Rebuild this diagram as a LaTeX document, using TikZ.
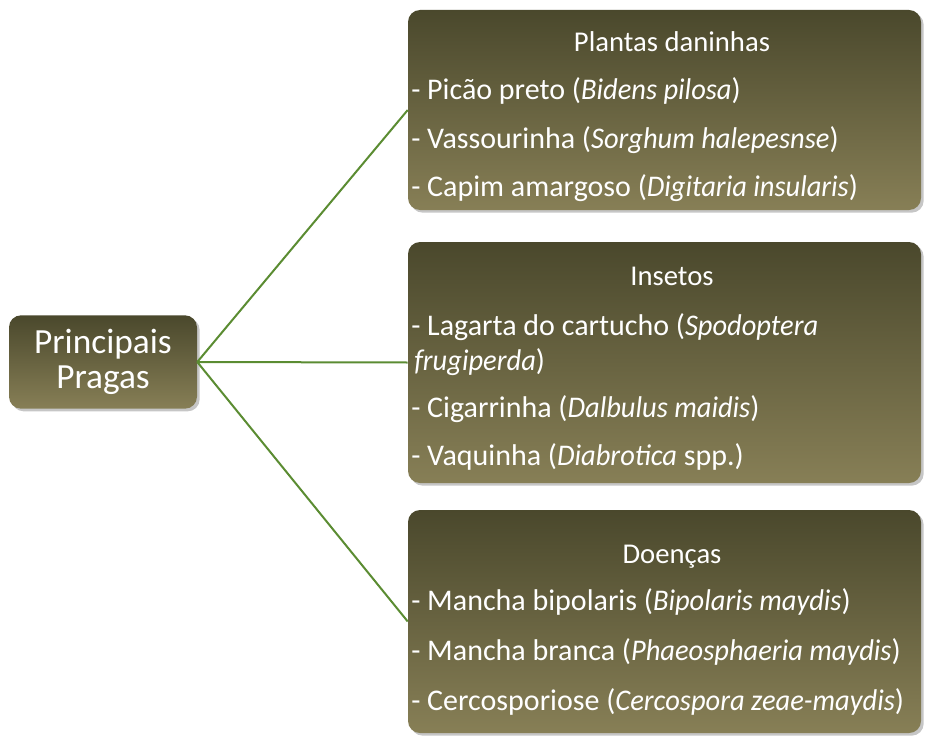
\documentclass[tikz,border=0pt]{standalone}
\usepackage{fontspec}
\setmainfont{Carlito}[ItalicFeatures={FakeStretch=0.95}]
\usetikzlibrary{shadows}

\definecolor{olivetop}{HTML}{4A482C}
\definecolor{olivebot}{HTML}{877F56}
\definecolor{linkgreen}{HTML}{5B8C32}

\tikzset{
  pragabox/.style={rounded corners=9pt, top color=olivetop, bottom color=olivebot,
    draw=none, inner sep=0pt,
    drop shadow={opacity=0.45, shadow xshift=2pt, shadow yshift=-2pt}},
  titulo/.style={text=white, anchor=base, inner sep=0pt, font=\fontsize{21.5}{25}\selectfont},
  item/.style={text=white, anchor=base west, inner sep=0pt, font=\fontsize{22.5}{27}\selectfont},
  ligacao/.style={linkgreen, line width=1.5pt},
}

\begin{document}
\begin{tikzpicture}[x=0.75pt,y=-0.75pt]
    \useasboundingbox (0,0) rectangle (927,738);
    % caixas
    \node[pragabox, minimum width=141pt, minimum height=70pt, align=center, text=white,
          font=\fontsize{26.5}{26}\selectfont] (pragas) at (103,362) {Principais\\Pragas};
    \node[pragabox, minimum width=384.75pt, minimum height=150pt] (plantas) at (664.5,110) {};
    \node[pragabox, minimum width=384.75pt, minimum height=180.75pt] (insetos) at (664.5,362.5) {};
    \node[pragabox, minimum width=384.75pt, minimum height=167.25pt] (doencas) at (664.5,621.5) {};
    % ligacoes
    \draw[ligacao] (pragas.east) -- (plantas.west);
    \draw[ligacao] (pragas.east) -- (insetos.west);
    \draw[ligacao] (pragas.east) -- (doencas.west);
    % plantas daninhas
    \node[titulo] (tplantas) at (672,52) {Plantas daninhas};
    \node[item] (pd1) at (411,100) {- Picão preto (\textit{Bidens pilosa})};
    \node[item] (pd2) at (411,148) {- Vassourinha (\textit{Sorghum halepesnse})};
    \node[item] (pd3) at (411,196) {- Capim amargoso (\textit{Digitaria insularis})};
    % insetos
    \node[titulo] (tinsetos) at (672,285) {Insetos};
    \node[item] (in1) at (411,335) {- Lagarta do cartucho (\textit{Spodoptera}};
    \node[item] (in1b) at (414,370) {\textit{frugiperda})};
    \node[item] (in2) at (411,417) {- Cigarrinha (\textit{Dalbulus maidis})};
    \node[item] (in3) at (411,465) {- Vaquinha (\textit{Diabrotica} spp.)};
    % doencas
    \node[titulo] (tdoencas) at (672,563) {Doenças};
    \node[item] (do1) at (411,610) {- Mancha bipolaris (\textit{Bipolaris maydis})};
    \node[item] (do2) at (411,660) {- Mancha branca (\textit{Phaeosphaeria maydis})};
    \node[item] (do3) at (411,710) {- Cercosporiose (\textit{Cercospora zeae-maydis})};
\end{tikzpicture}
\end{document}
